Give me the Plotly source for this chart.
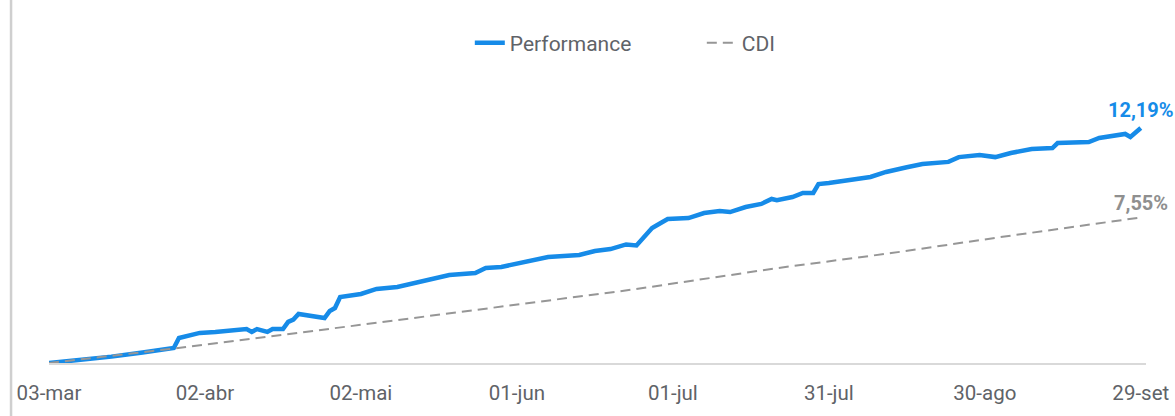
import plotly.graph_objects as go

# ---- data ----
perf_dates = [
    "2023-03-03", "2023-03-09", "2023-03-15", "2023-03-21", "2023-03-27", "2023-03-28",
    "2023-04-01", "2023-04-04", "2023-04-10", "2023-04-11", "2023-04-12", "2023-04-14",
    "2023-04-15", "2023-04-17", "2023-04-18", "2023-04-19", "2023-04-20", "2023-04-25",
    "2023-04-26", "2023-04-27", "2023-04-28", "2023-05-02", "2023-05-05", "2023-05-09",
    "2023-05-13", "2023-05-15", "2023-05-19", "2023-05-24", "2023-05-26", "2023-05-29",
    "2023-06-02", "2023-06-05", "2023-06-07", "2023-06-13", "2023-06-16", "2023-06-19",
    "2023-06-21", "2023-06-22", "2023-06-24", "2023-06-27", "2023-06-28", "2023-06-30",
    "2023-07-04", "2023-07-07", "2023-07-10", "2023-07-12", "2023-07-15", "2023-07-18",
    "2023-07-20", "2023-07-21", "2023-07-24", "2023-07-26", "2023-07-28", "2023-07-29",
    "2023-07-31", "2023-08-03", "2023-08-05", "2023-08-08", "2023-08-11", "2023-08-13",
    "2023-08-15", "2023-08-18", "2023-08-23", "2023-08-25", "2023-08-29", "2023-09-01",
    "2023-09-04", "2023-09-08", "2023-09-12", "2023-09-13", "2023-09-16", "2023-09-19",
    "2023-09-21", "2023-09-26", "2023-09-27", "2023-09-28", "2023-09-29",
]
perf_values = [
    0.00, 0.15, 0.33, 0.55, 0.78, 1.30,
    1.56, 1.61, 1.76, 1.61, 1.76, 1.61,
    1.76, 1.76, 2.13, 2.25, 2.54, 2.33,
    2.70, 2.85, 3.42, 3.58, 3.84, 3.94,
    4.20, 4.30, 4.56, 4.67, 4.93, 4.98,
    5.19, 5.34, 5.50, 5.60, 5.81, 5.91,
    6.05, 6.15, 6.10, 7.00, 7.16, 7.47,
    7.52, 7.78, 7.88, 7.83, 8.09, 8.25,
    8.51, 8.45, 8.61, 8.82, 8.82, 9.28,
    9.34, 9.44, 9.54, 9.65, 9.91, 10.01,
    10.15, 10.32, 10.43, 10.68, 10.79, 10.68,
    10.89, 11.10, 11.15, 11.41, 11.46, 11.46,
    11.67, 11.88, 11.72, 11.98, 12.19,
]

cdi_dates = ["2023-03-03", "2023-03-27", "2023-05-02", "2023-06-01", "2023-06-23",
             "2023-07-21", "2023-08-12", "2023-09-02", "2023-09-29"]
cdi_values = [0.00, 0.75, 1.98, 3.03, 3.80, 4.92, 5.70, 6.53, 7.55]

tick_dates = ["2023-03-03", "2023-04-02", "2023-05-02", "2023-06-01",
              "2023-07-01", "2023-07-31", "2023-08-30", "2023-09-29"]
tick_labels = ["03-mar", "02-abr", "02-mai", "01-jun", "01-jul", "31-jul", "30-ago", "29-set"]

perf_label = "12,19%"
cdi_label = "7,55%"

BLUE = "#168BE8"
GRAY = "#969696"
TEXT = "#5f6368"
FONT = "Roboto"

fig = go.Figure()
fig.add_trace(go.Scatter(
    x=perf_dates, y=perf_values, mode="lines", name="Performance",
    line=dict(color=BLUE, width=4.5),
))
fig.add_trace(go.Scatter(
    x=cdi_dates, y=cdi_values, mode="lines", name="CDI",
    line=dict(color=GRAY, width=2, dash="10px,6px"),
))

fig.add_annotation(x=perf_dates[-1], y=perf_values[-1], text=perf_label,
                   showarrow=False, xanchor="center", yanchor="middle", yshift=18,
                   font=dict(family=FONT, size=20, color=BLUE, weight="bold"))
fig.add_annotation(x=cdi_dates[-1], y=cdi_values[-1], text=cdi_label,
                   showarrow=False, xanchor="center", yanchor="middle", yshift=14,
                   font=dict(family=FONT, size=20, color="#8f8f8f", weight="bold"))

# left container border
fig.add_shape(type="line", xref="paper", yref="paper",
              x0=-0.0346, x1=-0.0346, y0=-0.3, y1=1.5,
              line=dict(color="#cfcfcf", width=2.5))

fig.update_layout(
    width=1175, height=416,
    margin=dict(l=49, r=29, t=90, b=53, autoexpand=False),
    paper_bgcolor="white", plot_bgcolor="white",
    font=dict(family=FONT, size=20, color=TEXT),
    showlegend=True,
    legend=dict(orientation="h", x=0.3836, y=1.172, xanchor="left", yanchor="middle",
                entrywidth=187, entrywidthmode="pixels",
                font=dict(family=FONT, size=21, color=TEXT), bgcolor="rgba(0,0,0,0)"),
    xaxis=dict(type="date", range=["2023-03-03", "2023-09-30"],
               tickvals=tick_dates, ticktext=tick_labels,
               showgrid=False, zeroline=False, showline=True, linecolor="#d9d9d9",
               linewidth=2, ticks="", ticklabelstandoff=10,
               tickfont=dict(family=FONT, size=20.5, color=TEXT)),
    yaxis=dict(range=[0, 14.16], showgrid=False, zeroline=False, showline=False,
               showticklabels=False, ticks=""),
)

fig.write_html("out.html", config={"displayModeBar": False},
               post_script="document.body.style.margin='0';document.body.style.overflow='hidden';")
